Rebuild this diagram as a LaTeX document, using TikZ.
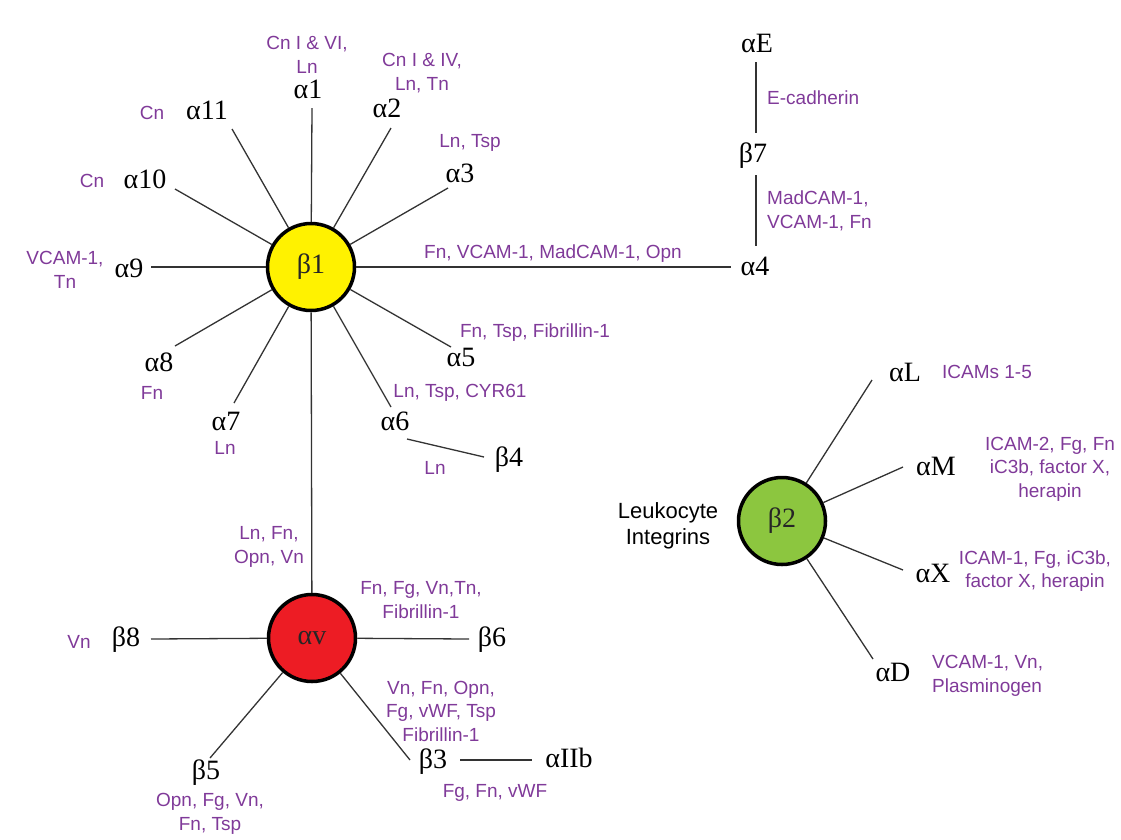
\documentclass[tikz,border=0pt]{standalone}
\usepackage{fontspec}
\setmainfont{Liberation Serif}
\newfontfamily\labfont{Liberation Sans}
\definecolor{ligand}{RGB}{128,58,153}
\definecolor{hubyellow}{RGB}{255,242,0}
\definecolor{hubred}{RGB}{237,28,36}
\definecolor{hubgreen}{RGB}{140,198,63}
\tikzset{
  greek/.style={font=\fontsize{28}{32}\selectfont, inner sep=0pt},
  lig/.style={font=\labfont\fontsize{19}{23.5}\selectfont, text=ligand, align=center, inner sep=0pt},
  hub/.style={circle, draw=black, line width=3.5pt, minimum size=87pt, inner sep=0pt, font=\fontsize{28}{32}\selectfont, text=black!85},
  spoke/.style={line width=1.3pt, draw=black!80},
}
\begin{document}
\begin{tikzpicture}[x=1pt,y=-1pt]
\useasboundingbox (0,0) rectangle (1121,839);
% hubs
\node[hub, fill=hubyellow] (b1) at (311,267) {β1};
\node[hub, fill=hubred] (av) at (312,638) {αv};
\node[hub, fill=hubgreen] (b2) at (782,521) {β2};

% spoke ends
\coordinate (e-a1) at (312,108);
\coordinate (e-a2) at (391,128);
\coordinate (e-a3) at (448,188);
\coordinate (e-a11) at (232,129);
\coordinate (e-a10) at (175,189);
\coordinate (e-a9) at (151,267);
\coordinate (e-a8) at (175,346);
\coordinate (e-a7) at (234,403);
\coordinate (e-a6) at (391,407);
\coordinate (e-a5) at (451,347);
\coordinate (e-a4) at (731,267);
\coordinate (s-a6b4) at (407,439);
\coordinate (e-a6b4) at (484,457);
\coordinate (s-aEb7) at (756,62);
\coordinate (e-aEb7) at (756,133);
\coordinate (s-b7a4) at (756,175);
\coordinate (e-b7a4) at (756,246);
\coordinate (e-b8) at (151,639);
\coordinate (e-b6) at (469,639);
\coordinate (e-b5) at (210,758);
\coordinate (e-b3) at (410,760);
\coordinate (s-b3aIIb) at (460,760);
\coordinate (e-b3aIIb) at (532,760);
\coordinate (e-aL) at (872,380);
\coordinate (e-aM) at (903,467);
\coordinate (e-aX) at (903,570);
\coordinate (e-aD) at (873,659);

% connectors
\foreach \e in {a1,a2,a3,a11,a10,a9,a8,a7,a6,a5,a4}
  \draw[spoke] (b1) -- (e-\e);
\draw[spoke] (b1) -- (av);
\foreach \e in {b8,b6,b5,b3}
  \draw[spoke] (av) -- (e-\e);
\foreach \e in {aL,aM,aX,aD}
  \draw[spoke] (b2) -- (e-\e);
\draw[spoke] (s-a6b4) -- (e-a6b4);
\draw[spoke] (s-aEb7) -- (e-aEb7);
\draw[spoke] (s-b7a4) -- (e-b7a4);
\draw[spoke] (s-b3aIIb) -- (e-b3aIIb);

% beta1 partners
\node[greek] (a1) at (308,89) {α1};
\node[lig] (l-a1) at (307,55) {Cn I \& VI,\\Ln};
\node[greek] (a2) at (387,108) {α2};
\node[lig] (l-a2) at (422,73) {Cn I \& IV,\\Ln, Tn};
\node[greek] (a3) at (460,173) {α3};
\node[lig] (l-a3) at (470,143) {Ln, Tsp};
\node[greek] (a11) at (207,110) {α11};
\node[lig] (l-a11) at (152,113) {Cn};
\node[greek] (a10) at (145,179) {α10};
\node[lig] (l-a10) at (92,181) {Cn};
\node[greek] (a9) at (129,268) {α9};
\node[lig] (l-a9) at (65,270) {VCAM-1,\\Tn};
\node[greek] (a8) at (159,362) {α8};
\node[lig] (l-a8) at (152,393) {Fn};
\node[greek] (a7) at (226,421) {α7};
\node[lig] (l-a7) at (225,448) {Ln};
\node[greek] (a6) at (395,421) {α6};
\node[lig] (l-a6) at (460,393) {Ln, Tsp, CYR61};
\node[greek] (b4) at (509,460) {β4};
\node[lig] (l-b4) at (435,468) {Ln};
\node[greek] (a5) at (461,357) {α5};
\node[lig] (l-a5) at (535,333) {Fn, Tsp, Fibrillin-1};
\node[greek] (a4) at (755,266) {α4};
\node[lig] (l-a4) at (553,254) {Fn, VCAM-1, MadCAM-1, Opn};
\node[greek] (b7) at (753,156) {β7};
\node[greek] (aE) at (757,43) {αE};
\node[lig, anchor=west] (l-aE) at (767,98) {E-cadherin};
\node[lig, anchor=west, align=left] (l-b7) at (767,211) {MadCAM-1,\\VCAM-1, Fn};
\node[lig] (l-b1av) at (269,547) {Ln, Fn,\\Opn, Vn};

% alpha v partners
\node[greek] (b8) at (126,640) {β8};
\node[lig] (l-b8) at (79,642) {Vn};
\node[greek] (b6) at (492,640) {β6};
\node[lig] (l-b6) at (421,600) {Fn, Fg, Vn,Tn,\\Fibrillin-1};
\node[greek] (b5) at (206,773) {β5};
\node[lig] (l-b5) at (210,814) {Opn, Fg, Vn,\\Fn, Tsp};
\node[greek] (b3) at (433,762) {β3};
\node[lig] (l-b3) at (441,711) {Vn, Fn, Opn,\\Fg, vWF, Tsp\\Fibrillin-1};
\node[greek] (aIIb) at (569,758) {αIIb};
\node[lig] (l-aIIb) at (495,793) {Fg, Fn, vWF};

% beta2 partners
\node[font=\labfont\fontsize{22}{26}\selectfont, align=center, inner sep=0pt] (leuko) at (668,526) {Leukocyte\\Integrins};
\node[greek] (aL) at (905,372) {αL};
\node[lig] (l-aL) at (987,372) {ICAMs 1-5};
\node[greek] (aM) at (936,466) {αM};
\node[lig] (l-aM) at (1050,469) {ICAM-2, Fg, Fn\\iC3b, factor X,\\herapin};
\node[greek] (aX) at (933,573) {αX};
\node[lig] (l-aX) at (1035,571) {ICAM-1, Fg, iC3b,\\factor X, herapin};
\node[greek] (aD) at (893,672) {αD};
\node[lig, anchor=west, align=left] (l-aD) at (932,676) {VCAM-1, Vn,\\Plasminogen};
\end{tikzpicture}
\end{document}
